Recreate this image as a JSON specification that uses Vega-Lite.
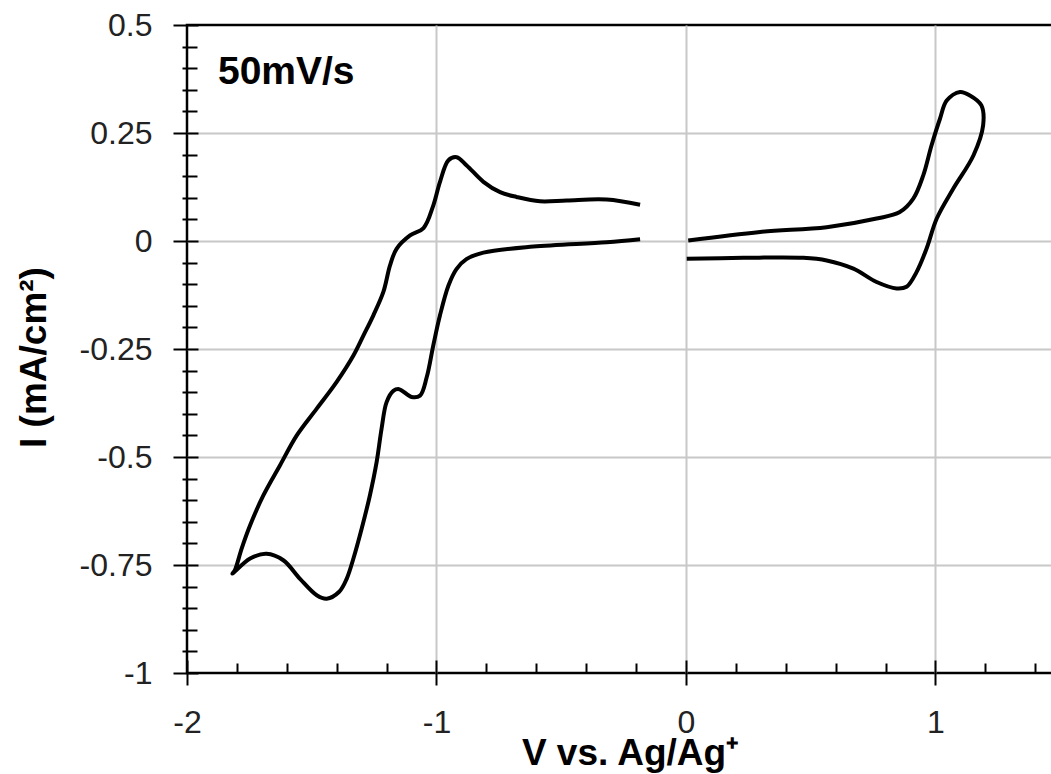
{
  "$schema": "https://vega.github.io/schema/vega-lite/v6.json",
  "width": 866,
  "height": 648,
  "autosize": {"type": "none"},
  "padding": {"left": 187, "top": 25, "right": 0, "bottom": 101},
  "background": "white",
  "config": {"view": {"stroke": "black", "strokeWidth": 2.5}, "font": "Liberation Sans"},
  "datasets": {
    "cv": [
      {"seg": "A", "i": 1, "v": -0.184, "c": 0.084},
      {"seg": "A", "i": 2, "v": -0.318, "c": 0.096},
      {"seg": "A", "i": 3, "v": -0.478, "c": 0.094},
      {"seg": "A", "i": 4, "v": -0.585, "c": 0.092},
      {"seg": "A", "i": 5, "v": -0.679, "c": 0.102},
      {"seg": "A", "i": 6, "v": -0.745, "c": 0.113},
      {"seg": "A", "i": 7, "v": -0.812, "c": 0.137},
      {"seg": "A", "i": 8, "v": -0.879, "c": 0.175},
      {"seg": "A", "i": 9, "v": -0.919, "c": 0.194},
      {"seg": "A", "i": 10, "v": -0.952, "c": 0.187},
      {"seg": "A", "i": 11, "v": -0.986, "c": 0.137},
      {"seg": "A", "i": 12, "v": -1.013, "c": 0.082},
      {"seg": "A", "i": 13, "v": -1.052, "c": 0.030},
      {"seg": "A", "i": 14, "v": -1.106, "c": 0.013},
      {"seg": "A", "i": 15, "v": -1.160, "c": -0.018},
      {"seg": "A", "i": 16, "v": -1.186, "c": -0.056},
      {"seg": "A", "i": 17, "v": -1.213, "c": -0.118},
      {"seg": "A", "i": 18, "v": -1.253, "c": -0.172},
      {"seg": "A", "i": 19, "v": -1.293, "c": -0.219},
      {"seg": "A", "i": 20, "v": -1.333, "c": -0.265},
      {"seg": "A", "i": 21, "v": -1.400, "c": -0.326},
      {"seg": "A", "i": 22, "v": -1.480, "c": -0.388},
      {"seg": "A", "i": 23, "v": -1.560, "c": -0.450},
      {"seg": "A", "i": 24, "v": -1.627, "c": -0.519},
      {"seg": "A", "i": 25, "v": -1.694, "c": -0.589},
      {"seg": "A", "i": 26, "v": -1.747, "c": -0.658},
      {"seg": "A", "i": 27, "v": -1.781, "c": -0.712},
      {"seg": "A", "i": 28, "v": -1.808, "c": -0.762},
      {"seg": "A", "i": 29, "v": -1.818, "c": -0.770},
      {"seg": "A", "i": 30, "v": -1.747, "c": -0.735},
      {"seg": "A", "i": 31, "v": -1.681, "c": -0.724},
      {"seg": "A", "i": 32, "v": -1.614, "c": -0.739},
      {"seg": "A", "i": 33, "v": -1.547, "c": -0.782},
      {"seg": "A", "i": 34, "v": -1.480, "c": -0.820},
      {"seg": "A", "i": 35, "v": -1.440, "c": -0.828},
      {"seg": "A", "i": 36, "v": -1.390, "c": -0.812},
      {"seg": "A", "i": 37, "v": -1.360, "c": -0.782},
      {"seg": "A", "i": 38, "v": -1.333, "c": -0.735},
      {"seg": "A", "i": 39, "v": -1.300, "c": -0.666},
      {"seg": "A", "i": 40, "v": -1.267, "c": -0.589},
      {"seg": "A", "i": 41, "v": -1.240, "c": -0.512},
      {"seg": "A", "i": 42, "v": -1.220, "c": -0.434},
      {"seg": "A", "i": 43, "v": -1.200, "c": -0.373},
      {"seg": "A", "i": 44, "v": -1.173, "c": -0.347},
      {"seg": "A", "i": 45, "v": -1.150, "c": -0.343},
      {"seg": "A", "i": 46, "v": -1.100, "c": -0.361},
      {"seg": "A", "i": 47, "v": -1.066, "c": -0.358},
      {"seg": "A", "i": 48, "v": -1.039, "c": -0.315},
      {"seg": "A", "i": 49, "v": -1.013, "c": -0.242},
      {"seg": "A", "i": 50, "v": -0.986, "c": -0.172},
      {"seg": "A", "i": 51, "v": -0.952, "c": -0.103},
      {"seg": "A", "i": 52, "v": -0.920, "c": -0.065},
      {"seg": "A", "i": 53, "v": -0.880, "c": -0.042},
      {"seg": "A", "i": 54, "v": -0.812, "c": -0.027},
      {"seg": "A", "i": 55, "v": -0.612, "c": -0.013},
      {"seg": "A", "i": 56, "v": -0.318, "c": -0.003},
      {"seg": "A", "i": 57, "v": -0.184, "c": 0.004},
      {"seg": "B", "i": 1, "v": 0.009, "c": 0.001},
      {"seg": "B", "i": 2, "v": 0.297, "c": 0.021},
      {"seg": "B", "i": 3, "v": 0.564, "c": 0.032},
      {"seg": "B", "i": 4, "v": 0.764, "c": 0.052},
      {"seg": "B", "i": 5, "v": 0.857, "c": 0.067},
      {"seg": "B", "i": 6, "v": 0.911, "c": 0.098},
      {"seg": "B", "i": 7, "v": 0.951, "c": 0.152},
      {"seg": "B", "i": 8, "v": 0.984, "c": 0.221},
      {"seg": "B", "i": 9, "v": 1.018, "c": 0.283},
      {"seg": "B", "i": 10, "v": 1.045, "c": 0.325},
      {"seg": "B", "i": 11, "v": 1.098, "c": 0.345},
      {"seg": "B", "i": 12, "v": 1.138, "c": 0.337},
      {"seg": "B", "i": 13, "v": 1.184, "c": 0.314},
      {"seg": "B", "i": 14, "v": 1.191, "c": 0.268},
      {"seg": "B", "i": 15, "v": 1.152, "c": 0.198},
      {"seg": "B", "i": 16, "v": 1.071, "c": 0.121},
      {"seg": "B", "i": 17, "v": 1.005, "c": 0.052},
      {"seg": "B", "i": 18, "v": 0.964, "c": -0.018},
      {"seg": "B", "i": 19, "v": 0.924, "c": -0.072},
      {"seg": "B", "i": 20, "v": 0.884, "c": -0.106},
      {"seg": "B", "i": 21, "v": 0.844, "c": -0.110},
      {"seg": "B", "i": 22, "v": 0.764, "c": -0.095},
      {"seg": "B", "i": 23, "v": 0.671, "c": -0.064},
      {"seg": "B", "i": 24, "v": 0.564, "c": -0.045},
      {"seg": "B", "i": 25, "v": 0.470, "c": -0.039},
      {"seg": "B", "i": 26, "v": 0.230, "c": -0.039},
      {"seg": "B", "i": 27, "v": 0.003, "c": -0.041}
    ]
  },
  "layer": [
    {
      "data": {"name": "cv"},
      "mark": {"type": "line", "color": "black", "strokeWidth": 4, "interpolate": "catmull-rom"},
      "encoding": {
        "x": {"field": "v", "type": "quantitative", "scale": {"domain": [-2, 1.471], "nice": false, "zero": false},
          "axis": {"orient": "bottom", "values": [-1, 0, 1], "grid": true, "gridColor": "#c8c8c8", "gridWidth": 2, "ticks": false, "labels": false, "domain": false, "title": null}},
        "y": {"field": "c", "type": "quantitative", "scale": {"domain": [-1, 0.5], "nice": false, "zero": false},
          "axis": {"orient": "left", "values": [-0.75, -0.5, -0.25, 0, 0.25], "grid": true, "gridColor": "#c8c8c8", "gridWidth": 2, "ticks": false, "labels": false, "domain": false, "title": null}},
        "detail": {"field": "seg"},
        "order": {"field": "i", "type": "quantitative"}
      }
    },
    {
      "data": {"name": "cv"},
      "mark": {"type": "line", "strokeOpacity": 0},
      "encoding": {
        "x": {"field": "v", "type": "quantitative", "scale": {"domain": [-2, 1.471], "nice": false, "zero": false},
          "axis": {"orient": "bottom", "values": [-2, -1, 0, 1], "offset": -13, "tickSize": 25, "tickWidth": 2, "tickColor": "black", "domain": false, "grid": false,
            "labelFontSize": 32, "labelColor": "#222", "labelPadding": 22, "labelFlush": false, "labelOverlap": false, "labelExpr": "datum.value + ''",
            "title": "V vs. Ag/Ag⁺", "titleFontSize": 37, "titleFontWeight": "bold", "titleColor": "black", "titleX": 443, "titleY": 104, "titleBaseline": "alphabetic", "titleAlign": "center"}},
        "y": {"field": "c", "type": "quantitative", "scale": {"domain": [-1, 0.5], "nice": false, "zero": false},
          "axis": {"orient": "left", "values": [-1, -0.75, -0.5, -0.25, 0, 0.25, 0.5], "offset": -11, "tickSize": 25, "tickWidth": 2, "tickColor": "black", "domain": false, "grid": false,
            "labelFontSize": 32, "labelColor": "#222", "labelPadding": 21, "labelFlush": false, "labelOverlap": false, "labelExpr": "datum.value + ''",
            "title": "I (mA/cm²)", "titleFontSize": 37, "titleFontWeight": "bold", "titleColor": "black", "titleX": -153, "titleY": 332, "titleAngle": 270, "titleBaseline": "alphabetic", "titleAlign": "center"}},
        "detail": {"field": "seg"},
        "order": {"field": "i", "type": "quantitative"}
      }
    },
    {
      "data": {"name": "cv"},
      "mark": {"type": "line", "strokeOpacity": 0},
      "encoding": {
        "x": {"field": "v", "type": "quantitative", "scale": {"domain": [-2, 1.471], "nice": false, "zero": false},
          "axis": {"orient": "bottom", "values": [-1.8, -1.6, -1.4, -1.2, -0.8, -0.6, -0.4, -0.2, 0.2, 0.4, 0.6, 0.8, 1.2, 1.4], "offset": -10, "tickSize": 10, "tickWidth": 2, "tickColor": "black", "domain": false, "grid": false, "labels": false, "title": null}},
        "y": {"field": "c", "type": "quantitative", "scale": {"domain": [-1, 0.5], "nice": false, "zero": false},
          "axis": {"orient": "left", "values": [-0.95, -0.9, -0.85, -0.8, -0.7, -0.65, -0.6, -0.55, -0.45, -0.4, -0.35, -0.3, -0.2, -0.15, -0.1, -0.05, 0.05, 0.1, 0.15, 0.2, 0.3, 0.35, 0.4, 0.45], "offset": -10, "tickSize": 15, "tickWidth": 2, "tickColor": "black", "domain": false, "grid": false, "labels": false, "title": null}},
        "detail": {"field": "seg"},
        "order": {"field": "i", "type": "quantitative"}
      }
    },
    {
      "data": {"values": [{"label": "50mV/s"}]},
      "mark": {"type": "text", "align": "left", "baseline": "alphabetic", "fontSize": 39, "fontWeight": "bold", "color": "black", "font": "Liberation Sans"},
      "encoding": {
        "x": {"datum": -1.876, "type": "quantitative", "axis": null},
        "y": {"datum": 0.364, "type": "quantitative", "axis": null},
        "text": {"field": "label"}
      }
    }
  ],
  "resolve": {"axis": {"x": "independent", "y": "independent"}}
}
